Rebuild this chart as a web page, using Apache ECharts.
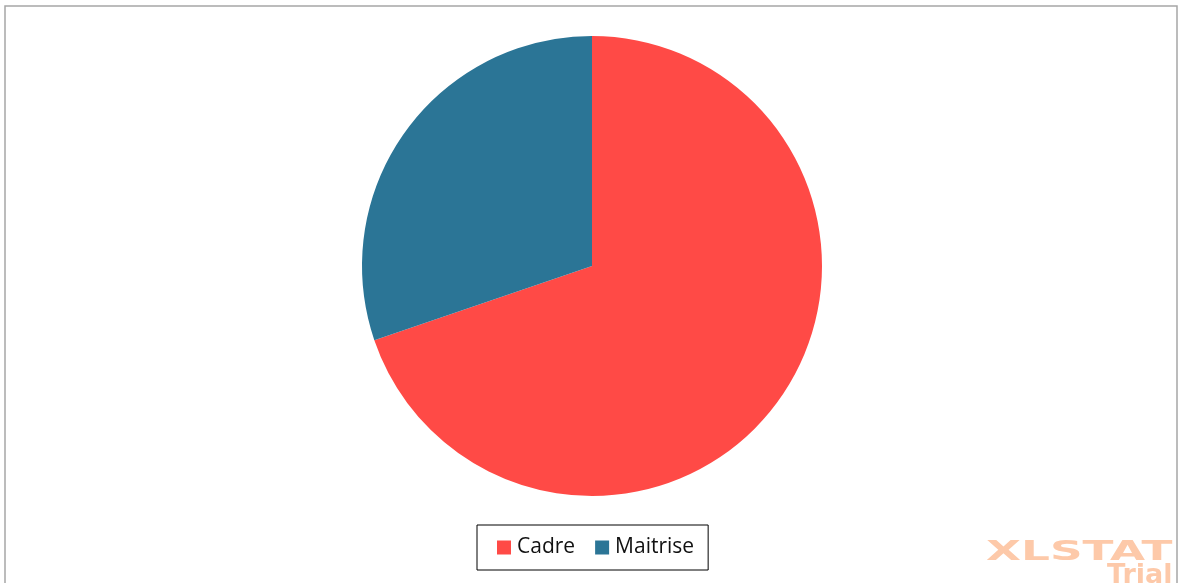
<!DOCTYPE html>
<html>
<head>
<meta charset="utf-8">
<script src="https://cdn.jsdelivr.net/npm/echarts@6/dist/echarts.min.js"></script>
<style>
  html, body { margin: 0; padding: 0; background: #ffffff; }
  #chart { width: 1178px; height: 583px; }
</style>
</head>
<body>
<div id="chart"></div>
<script>
// Category shares drawn as a pie
const categories = ['Cadre', 'Maitrise'];
const counts = [30, 13];
const colors = ['#FF4A46', '#2B7596'];

const chart = echarts.init(document.getElementById('chart'), null, { renderer: 'canvas' });

const pieData = categories.map((name, i) => ({
  name: name,
  value: counts[i],
  itemStyle: { color: colors[i] }
}));

chart.setOption({
  animation: false,
  backgroundColor: '#ffffff',
  graphic: [
    {
      type: 'rect',
      shape: { x: 5, y: 6, width: 1172, height: 600 },
      style: { fill: 'none', stroke: '#a6a6a6', lineWidth: 1.5 },
      silent: true,
      z: 0
    },
    {
      type: 'text',
      x: 986,
      y: 539,
      scaleX: 1.68,
      style: {
        text: 'XLSTAT',
        font: 'bold 27px "DejaVu Sans"',
        fill: '#FDC9A9',
        textVerticalAlign: 'top'
      },
      silent: true,
      z: 0
    },
    {
      type: 'text',
      x: 1107,
      y: 562,
      scaleX: 1.0,
      style: {
        text: 'Trial',
        font: 'bold 27px "DejaVu Sans"',
        fill: '#FDC9A9',
        textVerticalAlign: 'top'
      },
      silent: true,
      z: 0
    }
  ],
  legend: {
    data: categories,
    left: 477,
    top: 525,
    orient: 'horizontal',
    borderColor: '#000000',
    borderWidth: 1,
    padding: [12, 14, 12, 20],
    itemWidth: 14,
    itemHeight: 14,
    itemGap: 20,
    icon: 'rect',
    textStyle: {
      fontFamily: '"Open Sans", "Noto Sans", sans-serif',
      fontSize: 21,
      color: '#111111',
      padding: [0, 0, 0, 1]
    }
  },
  series: [
    {
      type: 'pie',
      center: [592, 266],
      radius: [0, 230],
      startAngle: 90,
      clockwise: true,
      label: { show: false },
      labelLine: { show: false },
      emphasis: { disabled: true },
      itemStyle: { borderWidth: 0 },
      data: pieData
    }
  ]
});
</script>
</body>
</html>
